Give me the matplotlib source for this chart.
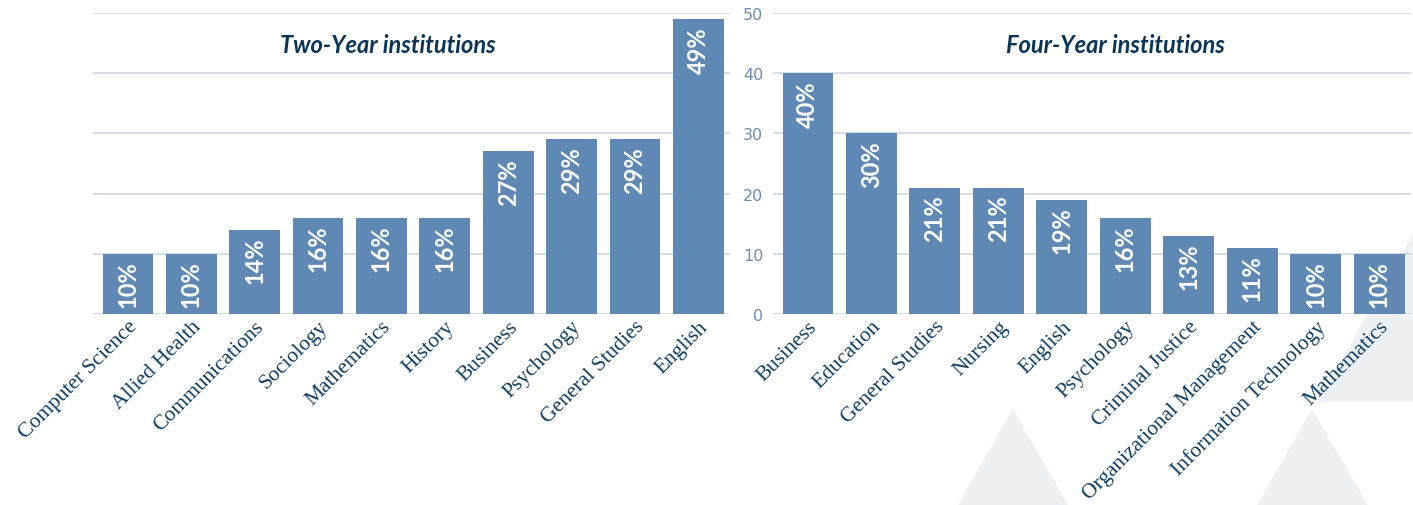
import matplotlib.pyplot as plt
from matplotlib.patches import Polygon

# data (percent of students)
two_year_fields = ["Computer Science", "Allied Health", "Communications", "Sociology",
                   "Mathematics", "History", "Business", "Psychology",
                   "General Studies", "English"]
two_year_pct = [10, 10, 14, 16, 16, 16, 27, 29, 29, 49]

four_year_fields = ["Business", "Education", "General Studies", "Nursing", "English",
                    "Psychology", "Criminal Justice", "Organizational Management",
                    "Information Technology", "Mathematics"]
four_year_pct = [40, 30, 21, 21, 19, 16, 13, 11, 10, 10]

y_ticks = [0, 10, 20, 30, 40, 50]

BAR = "#5f89b4"
GRID = "#d1dae4"
TITLE = "#0b3558"
LABEL = "#0e3d63"
YTICK = "#6a8db5"
SHAPE = "#edf1f4"

W, H = 1413, 506
fig = plt.figure(figsize=(W / 100, H / 100), dpi=100)


def px(x, y):
    return (x / W, 1 - y / H)


# decorative triangles in the background
for pts in [[(958, 506), (1013, 410), (1068, 506)],
            [(1257, 506), (1312, 410), (1368, 506)],
            [(1413, 235), (1318, 403), (1413, 403)]]:
    fig.patches.append(Polygon([px(*p) for p in pts], closed=True,
                               transform=fig.transFigure, facecolor=SHAPE,
                               edgecolor="none", zorder=-1))

ax1 = fig.add_axes([93 / W, 1 - 315 / H, 637 / W, 301 / H])
ax2 = fig.add_axes([773 / W, 1 - 315 / H, 638 / W, 301 / H])


def draw(ax, fields, pct, title, title_x, show_y):
    ax.set_facecolor("none")
    xs = range(len(fields))
    ax.bar(xs, pct, width=0.8, color=BAR, zorder=3)
    for x, v in zip(xs, pct):
        ax.annotate(f"{v}%", (x, v), xytext=(0, -5), textcoords="offset points",
                    rotation=90, ha="center", va="top", color="white",
                    fontsize=17, fontweight="bold", family=["Lato", "DejaVu Sans"],
                    zorder=4)
    ax.set_xlim(-0.55, 9.5)
    ax.set_ylim(0, 50)
    ax.set_yticks(y_ticks)
    ax.yaxis.grid(True, color=GRID, linewidth=1.3, zorder=0)
    ax.set_axisbelow(True)
    for s in ax.spines.values():
        s.set_visible(False)
    ax.set_xticks(list(xs))
    ax.set_xticklabels(fields, rotation=45, ha="right", va="top",
                       rotation_mode="anchor", color=LABEL, fontsize=15.5,
                       family=["Liberation Serif", "DejaVu Serif"])
    ax.tick_params(axis="x", length=0, pad=2)
    if show_y:
        ax.tick_params(axis="y", length=0, pad=7, labelcolor=YTICK, labelsize=11.5)
    else:
        ax.tick_params(axis="y", length=0, labelleft=False)
    ax.text(title_x, 44.8, title, ha="center", va="center", color=TITLE,
            fontsize=17, fontweight="bold", fontstyle="italic",
            family=["Lato", "DejaVu Sans"])


draw(ax1, two_year_fields, two_year_pct, "Two-Year institutions", 4.1, False)
draw(ax2, four_year_fields, four_year_pct, "Four-Year institutions", 4.85, True)

fig.savefig("out.png", dpi=100)
